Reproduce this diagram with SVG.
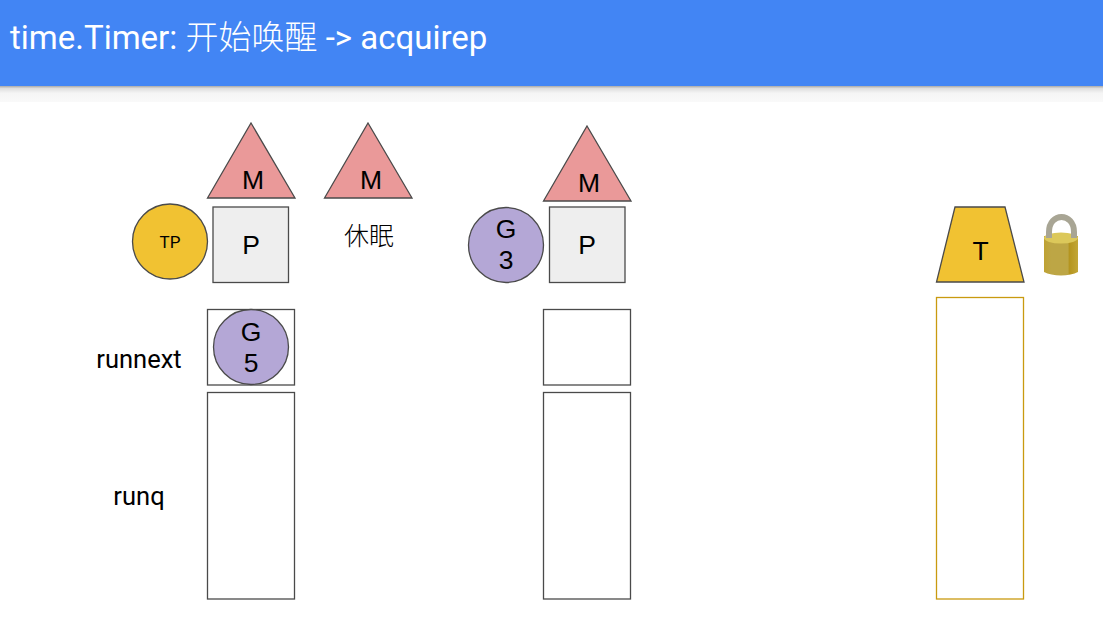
<svg xmlns="http://www.w3.org/2000/svg" width="1103" height="619" viewBox="0 0 1103 619">
<style>
.s{stroke:#4a4a4a;stroke-width:1.3}
.m{fill:#ea9999}
.p{fill:#eeeeee}
.g{fill:#b4a7d6}
.y{fill:#f1c232}
.b{fill:#fff}
.t{font-family:"Liberation Sans",Arial,"Noto Sans CJK SC",sans-serif;font-size:26.500px;fill:#000;text-anchor:middle}
.r{font-family:Roboto,"Noto Sans CJK SC",sans-serif;font-size:25.500px;fill:#000;text-anchor:middle}
</style>
<defs>
<linearGradient id="sh" x1="0" y1="0" x2="0" y2="1"><stop offset="0" stop-color="#a9a9a9"/><stop offset="0.15" stop-color="#dedede"/><stop offset="0.45" stop-color="#f5f5f5"/><stop offset="1" stop-color="#f9f9f9"/></linearGradient>
<linearGradient id="lockBody" x1="0" y1="0" x2="1" y2="0"><stop offset="0" stop-color="#bfa232"/><stop offset="0.2" stop-color="#bda645"/><stop offset="0.7" stop-color="#bda645"/><stop offset="0.75" stop-color="#b5951f"/><stop offset="1" stop-color="#c2a636"/></linearGradient>
</defs>
<rect width="1103" height="619" fill="#fff"/>
<g id="header">
<rect y="86" width="1103" height="16" fill="url(#sh)"/>
<rect width="1103" height="86" fill="#4285f4"/>
<text x="10" y="49" font-family="Roboto,'Noto Sans CJK SC',sans-serif" font-size="33" fill="#fff">time.Timer: <tspan font-family="'Noto Sans CJK SC',sans-serif" font-weight="300">开始唤醒</tspan> -&gt; acquirep</text>
</g>
<g id="connectors"/>
<g id="m1"><polygon class="s m" points="251,123 295,198 207.500,198"/><text class="t" x="253" y="189">M</text></g>
<g id="m2"><polygon class="s m" points="368,123 412,198 324.500,198"/><text class="t" x="371" y="189">M</text></g>
<g id="m3"><polygon class="s m" points="587,126 631,201 543.500,201"/><text class="t" x="589" y="192">M</text></g>
<g id="sleep"><text x="369" y="245" font-family="'Noto Sans CJK SC',sans-serif" font-weight="300" font-size="25" fill="#000" text-anchor="middle">休眠</text></g>
<g id="tp"><circle class="s y" cx="170" cy="241.500" r="37.500"/><text x="170" y="248" font-family="Roboto,sans-serif" font-size="17" fill="#000" text-anchor="middle">TP</text></g>
<g id="p1"><rect class="s p" x="213" y="207" width="75.500" height="75.500"/><text class="t" x="251" y="254">P</text></g>
<g id="g3"><circle class="s g" cx="506" cy="245" r="37.500"/><text class="t" x="506" y="238">G</text><text class="t" x="506" y="269">3</text></g>
<g id="p2"><rect class="s p" x="549.500" y="207" width="75.500" height="75.500"/><text class="t" x="587" y="254">P</text></g>
<g id="runnext1"><rect class="s b" x="207.500" y="309.500" width="87" height="75.500"/></g>
<g id="g5"><circle class="s g" cx="251" cy="347" r="37.500"/><text class="t" x="251" y="341">G</text><text class="t" x="251" y="372">5</text></g>
<g id="runq1"><rect class="s b" x="207.500" y="392.500" width="87" height="206.500"/></g>
<g id="runnext2"><rect class="s b" x="543.500" y="309.500" width="87" height="75.500"/></g>
<g id="runq2"><rect class="s b" x="543.500" y="392.500" width="87" height="206.500"/></g>
<g id="label-runnext"><text class="r" x="139" y="368">runnext</text></g>
<g id="label-runq"><text class="r" x="139" y="505">runq</text></g>
<g id="timer"><polygon class="s y" points="955,207 1005,207 1024,282 936.500,282"/><text class="t" x="980.500" y="260">T</text></g>
<g id="timer-queue"><rect x="936.500" y="297.500" width="87" height="301.500" fill="#fff" stroke="#c99a10" stroke-width="1.300"/></g>
<g id="lock">
<path d="M1044,236 L1078,236 L1078,272 C1070,276.500 1052,276.500 1044,272 Z" fill="url(#lockBody)"/>
<ellipse cx="1061" cy="238" rx="17" ry="5.500" fill="#dcc85a"/>
<path d="M1049,238 V232 C1049,212 1074,212 1074,232 V238" fill="none" stroke="#a8a594" stroke-width="6"/>
</g>
</svg>
